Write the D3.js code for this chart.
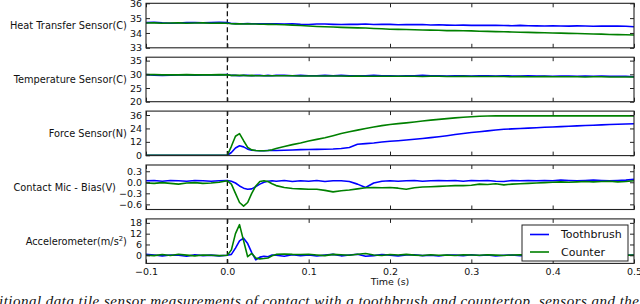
<!DOCTYPE html>
<html>
<head>
<meta charset="utf-8">
<script src="https://cdn.jsdelivr.net/npm/d3@7"></script>
<style>
  body { margin: 0; background: #fff; }
  svg { display: block; font-family: "DejaVu Sans", sans-serif; }
</style>
</head>
<body>
<div id="chart"></div>
<script>
// time samples (s)
const times = [-0.1, -0.09, -0.08, -0.07, -0.06, -0.05, -0.04, -0.03, -0.02, -0.01, 0,
  0.005, 0.01, 0.015, 0.02, 0.025, 0.03, 0.035, 0.04, 0.045, 0.05, 0.055, 0.06,
  0.07, 0.08, 0.09, 0.1, 0.11, 0.12, 0.13, 0.14, 0.15, 0.16, 0.17, 0.18, 0.19, 0.2,
  0.21, 0.22, 0.23, 0.24, 0.25, 0.26, 0.27, 0.28, 0.29, 0.3, 0.31, 0.32, 0.33, 0.34,
  0.35, 0.36, 0.37, 0.38, 0.39, 0.4, 0.41, 0.42, 0.43, 0.44, 0.45, 0.46, 0.47, 0.48, 0.49, 0.5];

const heatBrush = [34.70, 34.72, 34.68, 34.66, 34.67, 34.70, 34.71, 34.69, 34.70, 34.72, 34.71,
  34.64, 34.63, 34.62, 34.62, 34.63, 34.62, 34.62, 34.61, 34.62, 34.61, 34.62, 34.61,
  34.60, 34.62, 34.58, 34.57, 34.60, 34.60, 34.58, 34.57, 34.59, 34.58, 34.60, 34.57, 34.58, 34.58,
  34.55, 34.57, 34.56, 34.57, 34.54, 34.55, 34.53, 34.52, 34.53, 34.51, 34.52, 34.51, 34.52, 34.50,
  34.49, 34.51, 34.49, 34.48, 34.47, 34.48, 34.47, 34.46, 34.48, 34.47, 34.45, 34.47, 34.46, 34.46, 34.45, 34.42];
const heatCounter = [34.67, 34.68, 34.66, 34.67, 34.68, 34.65, 34.67, 34.68, 34.66, 34.67, 34.66,
  34.62, 34.61, 34.61, 34.60, 34.61, 34.60, 34.60, 34.59, 34.59, 34.58, 34.58, 34.57,
  34.55, 34.53, 34.50, 34.47, 34.44, 34.42, 34.40, 34.38, 34.36, 34.34, 34.33, 34.30, 34.28, 34.25,
  34.24, 34.23, 34.22, 34.20, 34.19, 34.18, 34.16, 34.16, 34.15, 34.14, 34.12, 34.11, 34.09, 34.08,
  34.07, 34.05, 34.04, 34.02, 34.01, 34.00, 33.99, 33.97, 33.96, 33.95, 33.93, 33.92, 33.90, 33.89, 33.88, 33.86];

const tempBrush = [29.9, 29.7, 29.6, 29.7, 29.8, 29.8, 29.7, 29.8, 29.8, 29.8, 29.9,
  29.6, 29.6, 29.5, 29.6, 29.6, 29.5, 29.6, 29.6, 29.5, 29.6, 29.5, 29.6,
  29.6, 29.5, 29.6, 29.5, 29.5, 29.6, 29.5, 29.6, 29.5, 29.5, 29.5, 29.6, 29.5, 29.5,
  29.4, 29.5, 29.5, 29.6, 29.5, 29.5, 29.4, 29.5, 29.5, 29.4, 29.5, 29.5, 29.4, 29.5,
  29.4, 29.4, 29.5, 29.4, 29.4, 29.3, 29.4, 29.4, 29.3, 29.4, 29.3, 29.4, 29.3, 29.3, 29.3, 29.1];
const tempCounter = [29.9, 29.9, 29.8, 29.8, 29.8, 29.9, 29.8, 29.8, 29.8, 29.9, 29.8,
  29.6, 29.6, 29.6, 29.6, 29.5, 29.6, 29.5, 29.5, 29.5, 29.5, 29.5, 29.5,
  29.5, 29.5, 29.4, 29.4, 29.4, 29.4, 29.4, 29.4, 29.3, 29.4, 29.3, 29.3, 29.3, 29.3,
  29.3, 29.3, 29.3, 29.2, 29.3, 29.3, 29.2, 29.2, 29.3, 29.2, 29.2, 29.2, 29.2, 29.2,
  29.1, 29.2, 29.1, 29.1, 29.2, 29.1, 29.1, 29.1, 29.1, 29.0, 29.1, 29.1, 29.0, 29.0, 29.0, 29.0];

const forceBrush = [0, 0, 0, 0, 0, 0, 0, 0, 0, 0, 0,
  2.5, 6.5, 8.5, 7.5, 5.5, 4.5, 4.2, 4.1, 4.1, 4.2, 4.2, 4.3,
  4.5, 4.7, 5.0, 5.2, 5.3, 5.4, 5.6, 6.0, 7.0, 9.8, 10.4, 11.0, 11.8, 12.5,
  13.0, 13.6, 14.3, 15.0, 15.8, 16.6, 17.5, 18.5, 19.4, 20.3, 21.0, 21.8, 22.6, 23.2,
  23.6, 23.9, 24.3, 24.6, 25.0, 25.3, 25.6, 26.0, 26.3, 26.6, 26.9, 27.2, 27.5, 27.7, 28.0, 28.2];
const forceCounter = [0, 0, 0, 0, 0, 0, 0, 0, 0, 0, 0,
  8.0, 17.0, 19.4, 13.0, 7.0, 4.8, 4.2, 4.0, 4.0, 4.3, 5.0, 6.0,
  7.8, 9.5, 11.0, 12.8, 14.2, 15.6, 17.5, 19.5, 21.0, 22.5, 24.0, 25.3, 26.5, 27.5,
  28.3, 29.0, 29.8, 30.6, 31.4, 32.1, 32.8, 33.4, 34.0, 34.5, 34.9, 35.1, 35.2, 35.2,
  35.2, 35.2, 35.2, 35.2, 35.2, 35.2, 35.2, 35.2, 35.2, 35.2, 35.2, 35.2, 35.2, 35.2, 35.2, 35.2];

const micBrush = [0.04, 0.05, 0.03, 0.05, 0.04, 0.03, 0.05, 0.04, 0.03, 0.04, 0.05,
  0.03, -0.02, -0.10, -0.16, -0.19, -0.18, -0.12, -0.05, 0.00, 0.03, 0.04, 0.03,
  0.05, 0.02, 0.04, 0.03, 0.05, 0.02, 0.04, 0.04, 0.02, -0.05, -0.14, -0.02, 0.03, 0.04,
  0.03, 0.04, 0.05, 0.03, 0.04, 0.05, 0.04, 0.05, 0.03, 0.05, 0.04, 0.05, 0.03, 0.02,
  0.05, 0.04, 0.05, 0.04, 0.05, 0.04, 0.06, 0.05, 0.04, 0.05, 0.06, 0.05, 0.04, 0.05, 0.06, 0.08];
const micCounter = [-0.02, -0.03, -0.01, -0.03, -0.05, -0.02, -0.01, -0.03, -0.02, 0.00, 0.04,
  -0.05, -0.30, -0.55, -0.65, -0.55, -0.30, -0.10, 0.02, 0.04, 0.02, -0.04, -0.09,
  -0.14, -0.17, -0.18, -0.19, -0.19, -0.22, -0.26, -0.23, -0.21, -0.18, -0.15, -0.14, -0.15, -0.14,
  -0.16, -0.19, -0.15, -0.13, -0.12, -0.11, -0.10, -0.09, -0.09, -0.08, -0.05, -0.06, -0.04, -0.07,
  -0.05, -0.04, -0.03, -0.02, -0.01, 0.00, 0.01, 0.00, 0.01, 0.02, 0.01, 0.02, 0.03, 0.01, 0.02, 0.04];

const accelBrush = [0.5, 0.2, -0.3, 0.2, 0.0, -0.5, 0.3, -0.2, 0.1, -0.3, 0.0,
  0.5, 4.0, 8.0, 9.5, 6.5, 1.5, -2.5, -1.0, -0.5, -0.8, 0.2, 0.0,
  -0.5, 0.3, -0.2, 0.2, -0.4, 0.1, 0.5, -0.3, 0.2, 0.6, -0.5, -0.2, 0.4, 0.1,
  -0.3, 0.2, 0.3, -0.2, 0.0, -0.4, 0.2, 0.1, -0.2, 0.3, -0.1, 0.2, -0.3, 0.0,
  0.2, -0.2, 0.1, 0.3, -0.2, 0.0, 0.2, -0.1, 0.1, -0.2, 0.2, 0.0, -0.1, 0.2, 0.0, 0.1];
const accelCounter = [0.0, -0.2, 0.4, -0.1, 0.6, 0.1, -0.3, 0.2, 0.0, -0.2, 0.0,
  3.0, 12.0, 17.0, 8.0, -0.8, 1.0, -1.5, -2.0, -1.8, -1.5, -0.3, 0.5,
  0.7, 0.5, 0.4, 0.6, 0.2, -0.2, 0.5, 0.3, 0.0, 0.6, 1.0, 0.2, -0.1, 0.4,
  0.2, 0.5, 0.1, -0.1, 0.3, 0.0, 0.2, -0.1, 0.3, 0.2, 0.0, 0.3, 0.1, -0.1,
  0.2, 0.3, 0.0, 0.2, 0.1, 0.4, 0.1, 0.0, 0.2, 0.3, 0.1, 0.0, 0.2, 0.1, 0.0, 0.1];

const seriesNames = ["Toothbrush", "Counter"];
const panelLabels = ["Heat Transfer Sensor(C)", "Temperature Sensor(C)", "Force Sensor(N)",
  "Contact Mic - Bias(V)", "Accelerometer(m/s"];
const yDomains = [[33, 36], [20, 36.25], [-0.3, 39.5], [-0.74, 0.47], [-4.5, 20.2]];
const yTicks = [[33, 34, 35, 36], [20, 25, 30, 35], [0, 12, 24, 36], [-0.6, -0.3, 0, 0.3], [0, 6, 12, 18]];
const xTicks = [-0.1, 0, 0.1, 0.2, 0.3, 0.4, 0.5];
const panelSeries = [[heatBrush, heatCounter], [tempBrush, tempCounter], [forceBrush, forceCounter],
  [micBrush, micCounter], [accelBrush, accelCounter]];

const colors = ["#0000ff", "#008000"];
const W = 640, H = 304;
const left = 146, right = 634, top0 = 3.3, panelH = 44.5, gap = 9.4;

const svg = d3.select("#chart").append("svg")
  .attr("width", W)
  .attr("height", H)
  .attr("viewBox", [0, 0, W, H]);

const x = d3.scaleLinear().domain([-0.1, 0.5]).range([left, right]);
const fmt1 = d3.format(".1f");

panelLabels.forEach((label, i) => {
  const top = top0 + i * (panelH + gap), bottom = top + panelH;
  const y = d3.scaleLinear().domain(yDomains[i]).range([bottom, top]);
  const g = svg.append("g");
  const isMic = i === 3;

  g.append("clipPath").attr("id", "clip" + i)
    .append("rect").attr("x", left).attr("y", top).attr("width", right - left).attr("height", panelH);

  // dashed marker at t = 0
  g.append("line")
    .attr("x1", x(0)).attr("x2", x(0)).attr("y1", top).attr("y2", bottom)
    .attr("stroke", "#000").attr("stroke-width", 1.2).attr("stroke-dasharray", "5,3");

  const line = d3.line().x((d, k) => x(times[k])).y(d => y(d));
  panelSeries[i].forEach((vals, s) => {
    g.append("path")
      .datum(vals)
      .attr("clip-path", `url(#clip${i})`)
      .attr("fill", "none")
      .attr("stroke", colors[s])
      .attr("stroke-width", 1.6)
      .attr("stroke-linejoin", "round")
      .attr("d", line);
  });

  // ticks pointing inwards on every side
  const yl = g.append("g").attr("transform", `translate(${left},0)`)
    .call(d3.axisLeft(y).tickValues(yTicks[i]).tickSize(-4).tickSizeOuter(0).tickPadding(4)
      .tickFormat(isMic ? fmt1 : d3.format("d")));
  g.append("g").attr("transform", `translate(${right},0)`)
    .call(d3.axisRight(y).tickValues(yTicks[i]).tickSize(-4).tickSizeOuter(0).tickFormat(""));
  g.append("g").attr("transform", `translate(0,${top})`)
    .call(d3.axisTop(x).tickValues(xTicks).tickSize(-4).tickSizeOuter(0).tickFormat(""));
  g.append("g").attr("transform", `translate(0,${bottom})`)
    .call(d3.axisBottom(x).tickValues(xTicks).tickSize(-4).tickSizeOuter(0).tickPadding(5)
      .tickFormat(i === 4 ? fmt1 : ""));

  g.selectAll(".domain").remove();
  g.selectAll(".tick line").attr("stroke", "#222");
  g.selectAll(".tick text").attr("font-family", "DejaVu Sans").attr("font-size", 9.5).attr("fill", "#111");

  g.append("rect")
    .attr("x", left).attr("y", top).attr("width", right - left).attr("height", panelH)
    .attr("fill", "none").attr("stroke", "#222").attr("stroke-width", 1.1);

  // y label sits left of the widest tick label
  let minX = left;
  yl.selectAll(".tick text").each(function () { minX = Math.min(minX, this.getBBox().x + left); });
  const t = g.append("text")
    .attr("x", minX - 3)
    .attr("y", (top + bottom) / 2)
    .attr("dy", "0.35em")
    .attr("text-anchor", "end")
    .attr("font-size", 9.8)
    .attr("fill", "#111")
    .text(label);
  if (i === 4) {
    t.append("tspan").attr("font-size", 6.8).attr("dy", "-0.55em").text("2");
    t.append("tspan").attr("dy", "0.4em").text(")");
  }
});

svg.append("text")
  .attr("x", (left + right) / 2)
  .attr("y", 285)
  .attr("text-anchor", "middle")
  .attr("font-size", 9.5)
  .attr("fill", "#111")
  .text("Time (s)");

// legend
const lg = svg.append("g").attr("transform", "translate(522,225)");
lg.append("rect").attr("width", 106).attr("height", 36)
  .attr("fill", "#fff").attr("stroke", "#222").attr("stroke-width", 1);
seriesNames.forEach((name, s) => {
  const yy = 9.5 + s * 17.5;
  lg.append("line").attr("x1", 8).attr("x2", 27).attr("y1", yy).attr("y2", yy)
    .attr("stroke", colors[s]).attr("stroke-width", 1.6);
  lg.append("text").attr("x", 39).attr("y", yy).attr("dy", "0.36em")
    .attr("font-size", 11).attr("fill", "#111").text(name);
});

// caption line from the page below, cut by the bottom edge
svg.append("text")
  .attr("x", -1)
  .attr("y", 306)
  .attr("font-family", "Liberation Serif, serif")
  .attr("font-style", "italic")
  .attr("font-size", 15)
  .attr("fill", "#111")
  .attr("textLength", 640)
  .attr("lengthAdjust", "spacing")
  .text("itional data tile sensor measurements of contact with a toothbrush and countertop, sensors and the");
</script>
</body>
</html>
